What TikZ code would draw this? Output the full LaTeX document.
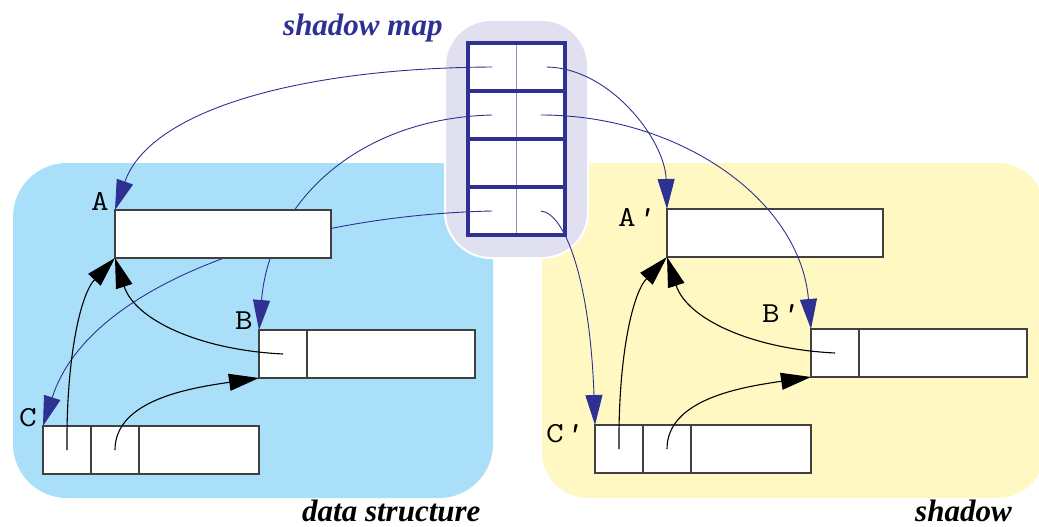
\documentclass[tikz,border=0pt]{standalone}
\usepackage{fontspec}
\setmainfont{Liberation Serif}
\usetikzlibrary{arrows.meta}

\definecolor{skyfill}{HTML}{A9DFF8}
\definecolor{creamfill}{HTML}{FFF8C3}
\definecolor{mapfill}{HTML}{E0E0F0}
\definecolor{mapblue}{HTML}{2E3192}
\definecolor{mapthin}{HTML}{8F90C8}
\definecolor{boxgray}{HTML}{404040}

\pgfdeclarelayer{regions}
\pgfdeclarelayer{links}
\pgfsetlayers{regions,links,main}

% wide typewriter record names
\newcommand{\recname}[1]{\scalebox{1.18}[1]{#1}}
\newcommand{\primemark}{{\slshape'}}

\tikzset{
  x=1pt, y=-1pt,
  region/.style={rounded corners=#1, draw=none},
  cellbox/.style={draw=boxgray, fill=white, line width=1.1pt,
    minimum height=48pt, inner sep=0pt, outer sep=0pt},
  mapcell/.style={minimum width=48.5pt, minimum height=48pt,
    inner sep=0pt, outer sep=0pt},
  tag/.style={font=\ttfamily\fontsize{29}{29}\selectfont, inner sep=0pt,
    anchor=base west},
  title/.style={font=\fontsize{31}{31}\selectfont\bfseries\itshape,
    inner sep=0pt, anchor=base west},
  link/.style={draw=mapblue, line width=0.9pt,
    -{Triangle[length=30pt,width=17pt]}},
  ptr/.style={draw=black, line width=1.1pt,
    -{Triangle[length=30pt,width=17pt]}},
}

\begin{document}
\begin{tikzpicture}
\useasboundingbox (0,0) rectangle (1039,527);

% ---------- background regions and the shadow map table ----------
\begin{pgfonlayer}{regions}
  \fill[region=54pt, skyfill] (13,163) rectangle (493,498);
  \fill[region=46pt, creamfill] (542,163) rectangle (1044,498);
  \filldraw[region=46pt, fill=mapfill, draw=white, line width=2pt]
    (445,20) rectangle (588,258);

  % cells of the shadow map
  \foreach \r/\yy in {1/67,2/115,3/163,4/211} {
    \node[mapcell] (m\r l) at (492.25,\yy) {};
    \node[mapcell] (m\r r) at (540.75,\yy) {};
  }
  \fill[white] (m1l.north west) rectangle (m4r.south east);
  \draw[mapthin, line width=1.6pt] (m1l.north east) -- (m4l.south east);
  \draw[mapblue, line width=4pt] (m1l.south west) -- (m1r.south east);
  \draw[mapblue, line width=4pt] (m2l.south west) -- (m2r.south east);
  \draw[mapblue, line width=4pt] (m3l.south west) -- (m3r.south east);
  \draw[mapblue, line width=4pt] (m1l.north west) rectangle (m4r.south east);
\end{pgfonlayer}

% ---------- records of the data structure ----------
\node[cellbox, minimum width=216pt] (A)  at (223,234) {};
\node[cellbox, minimum width=48pt]  (B1) at (283,354) {};
\node[cellbox, minimum width=168pt] (B2) at (391,354) {};
\node[cellbox, minimum width=48pt]  (C1) at (67,450) {};
\node[cellbox, minimum width=48pt]  (C2) at (115,450) {};
\node[cellbox, minimum width=120pt] (C3) at (199,450) {};

\node[tag] (lA) at (91,210) {\recname{A}};
\node[tag] (lB) at (235,329) {\recname{B}};
\node[tag] (lC) at (19,426) {\recname{C}};

% ---------- records of the shadow ----------
\node[cellbox, minimum width=216pt] (As)  at (775,233) {};
\node[cellbox, minimum width=48pt]  (Bs1) at (835,353) {};
\node[cellbox, minimum width=168pt] (Bs2) at (943,353) {};
\node[cellbox, minimum width=48pt]  (Cs1) at (619,449) {};
\node[cellbox, minimum width=48pt]  (Cs2) at (667,449) {};
\node[cellbox, minimum width=120pt] (Cs3) at (751,449) {};

\node[tag] (lAs) at (618,226) {\recname{A\primemark}};
\node[tag] (lBs) at (762,322) {\recname{B\primemark}};
\node[tag] (lCs) at (546,442) {\recname{C\primemark}};

% ---------- titles ----------
\node[title, text=mapblue] (tmap) at (283,36) {shadow map};
\node[title] (tdata) at (302,521) {data structure};
\node[title] (tshadow) at (915,521) {shadow};

% ---------- map entries pointing to records ----------
\begin{pgfonlayer}{links}
  \draw[link] (m1l.center) .. controls (300,68) and (150,110) .. (A.north west);
  \draw[link] ([xshift=6pt]m1r.center) .. controls (610,68) and (665,140) .. (As.north west);
  \draw[link] (m2l.center) .. controls (360,118) and (270,200) .. (B1.north west);
  \draw[link] (m4l.center) .. controls (300,215) and (90,280) .. (C1.north west);
  \draw[link] (m4r.center) .. controls (565,213) and (590,280) .. (Cs1.north west);
\end{pgfonlayer}
% this entry crosses over the shadow record A'
\draw[link] (m2r.center) .. controls (680,115) and (800,200) .. (Bs1.north west);

% ---------- pointers inside the data structure ----------
\draw[ptr] (C1.center) .. controls (66,360) and (80,295) .. (A.south west);
\draw[ptr] (B1.center) .. controls (200,350) and (135,320) .. (A.south west);
\draw[ptr] (C2.center) .. controls (115,400) and (190,388) .. (B1.south west);

% ---------- pointers inside the shadow ----------
\draw[ptr] (Cs1.center) .. controls (618,359) and (632,294) .. (As.south west);
\draw[ptr] (Bs1.center) .. controls (752,349) and (687,319) .. (As.south west);
\draw[ptr] (Cs2.center) .. controls (667,399) and (742,387) .. (Bs1.south west);
\end{tikzpicture}
\end{document}
